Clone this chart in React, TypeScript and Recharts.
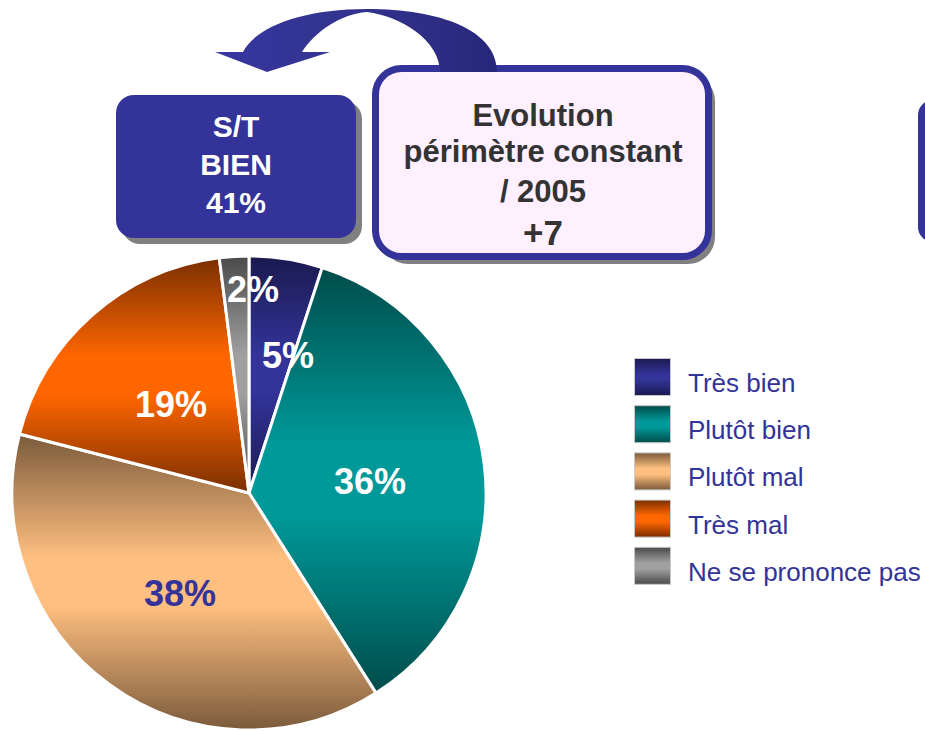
import React from 'react';
import { PieChart, Pie, Cell, Legend } from 'recharts';

const categories = ['Très bien', 'Plutôt bien', 'Plutôt mal', 'Très mal', 'Ne se prononce pas'];
const values = [5, 36, 38, 19, 2];
const summaryLines = ['S/T', 'BIEN', '41%'];
const evolutionLines = ['Evolution', 'périmètre constant', '/ 2005'];
const evolutionValue = '+7';

const darkColors = ['#1a1a4f', '#004c4a', '#7a5a3b', '#7a2e00', '#4a4a4a'];
const brightColors = ['#333399', '#009999', '#ffbf80', '#ff6600', '#a0a0a0'];
const labelColors = ['#ffffff', '#ffffff', '#333399', '#ffffff', '#ffffff'];
const LABEL_R = [0.605, 0.513, 0.513, 0.497, 0.857];
const LABEL_DA = [-6.8, -2, 1.4, 0, -4.7];

const data = categories.map((name, i) => ({ name, value: values[i] }));

const FONT = '"Liberation Sans", Arial, Helvetica, sans-serif';
const RAD = Math.PI / 180;

const renderLabel = (props: any) => {
  const { cx, cy, midAngle, outerRadius, index } = props;
  const a = (midAngle + LABEL_DA[index]) * RAD;
  const r = outerRadius * LABEL_R[index];
  const x = cx + r * Math.cos(a);
  const y = cy - r * Math.sin(a);
  return (
    <text
      key={`lbl-${index}`}
      x={x}
      y={y}
      textAnchor="middle"
      dominantBaseline="central"
      fill={labelColors[index]}
      fontSize={36}
      fontWeight="bold"
      fontFamily={FONT}
    >
      {`${values[index]}%`}
    </text>
  );
};

const LegendContent = () => (
  <svg width={300} height={240} style={{ overflow: 'visible' }}>
    {categories.map((c, i) => {
      const y = i * 47.2;
      return (
        <g key={c}>
          <rect x={0.5} y={y + 0.5} width={36} height={37} fill={`url(#grad-${i})`} stroke="#c8c8c8" strokeWidth={1} />
          <text x={54} y={y + 34} fontSize={26} fill="#333399" fontFamily={FONT}>
            {c}
          </text>
        </g>
      );
    })}
  </svg>
);

export default function App() {
  return (
    <div style={{ position: 'absolute', left: 0, top: 0, width: 925, height: 731, background: '#ffffff', fontFamily: FONT, overflow: 'hidden' }}>
      <svg width={0} height={0} style={{ position: 'absolute' }}>
        <defs>
          {categories.map((c, i) => (
            <linearGradient key={c} id={`grad-${i}`} x1="0" y1="0" x2="0" y2="1">
              <stop offset="0" stopColor={darkColors[i]} />
              <stop offset="0.42" stopColor={brightColors[i]} />
              <stop offset="0.58" stopColor={brightColors[i]} />
              <stop offset="1" stopColor={darkColors[i]} />
            </linearGradient>
          ))}
          <linearGradient id="arrowGrad" x1="0" y1="0" x2="1" y2="0">
            <stop offset="0" stopColor="#3636a0" />
            <stop offset="0.5" stopColor="#33338f" />
            <stop offset="1" stopColor="#27277a" />
          </linearGradient>
        </defs>
      </svg>

      <PieChart width={925} height={731} margin={{ top: 0, right: 0, bottom: 0, left: 0 }}>
        <Pie
          data={data}
          dataKey="value"
          nameKey="name"
          cx={249}
          cy={493}
          outerRadius={237}
          startAngle={90}
          endAngle={-270}
          stroke="#ffffff"
          strokeWidth={3}
          isAnimationActive={false}
          label={renderLabel}
          labelLine={false}
        >
          {data.map((d, i) => (
            <Cell key={d.name} fill={`url(#grad-${i})`} />
          ))}
        </Pie>
        <Legend
          content={<LegendContent />}
          wrapperStyle={{ position: 'absolute', left: 634, top: 358, width: 300, height: 240 }}
        />
      </PieChart>

      <svg width={925} height={731} style={{ position: 'absolute', left: 0, top: 0, pointerEvents: 'none' }}>
        {/* S/T box */}
        <rect x={122} y={101} width={240} height={143} rx={18} fill="#808080" />
        <rect x={116} y={95} width={240} height={143} rx={18} fill="#333399" />
        {summaryLines.map((t, i) => (
          <text key={t} x={236} y={137 + i * 38} textAnchor="middle" fill="#ffffff" fontSize={30} fontWeight="bold" fontFamily={FONT}>
            {t}
          </text>
        ))}

        {/* Evolution box */}
        <rect x={381} y={74} width={334} height={190} rx={27} fill="#808080" />
        <rect x={375.5} y={68.5} width={333} height={188} rx={26} fill="#fff0ff" stroke="#333399" strokeWidth={7} />
        {evolutionLines.map((t, i) => (
          <text key={t} x={543} y={[126, 162, 202][i]} textAnchor="middle" fill="#333333" fontSize={31} fontWeight="bold" fontFamily={FONT}>
            {t}
          </text>
        ))}
        <text x={543} y={245} textAnchor="middle" fill="#333333" fontSize={35} fontWeight="bold" fontFamily={FONT}>
          {evolutionValue}
        </text>

        {/* curved arrow */}
        <path
          d="M 497 72 C 497 30, 440 9, 367 9 C 300 9, 255 28, 243 52 L 215 52 L 267 72 L 330 52 L 302 52 C 315 32, 340 14, 367 12 C 400 16, 440 40, 440 72 Z"
          fill="url(#arrowGrad)"
        />

        {/* partial box at right edge */}
        <rect x={924} y={106} width={60} height={142} rx={15} fill="#808080" />
        <rect x={918} y={100} width={60} height={142} rx={15} fill="#333399" />
      </svg>
    </div>
  );
}
